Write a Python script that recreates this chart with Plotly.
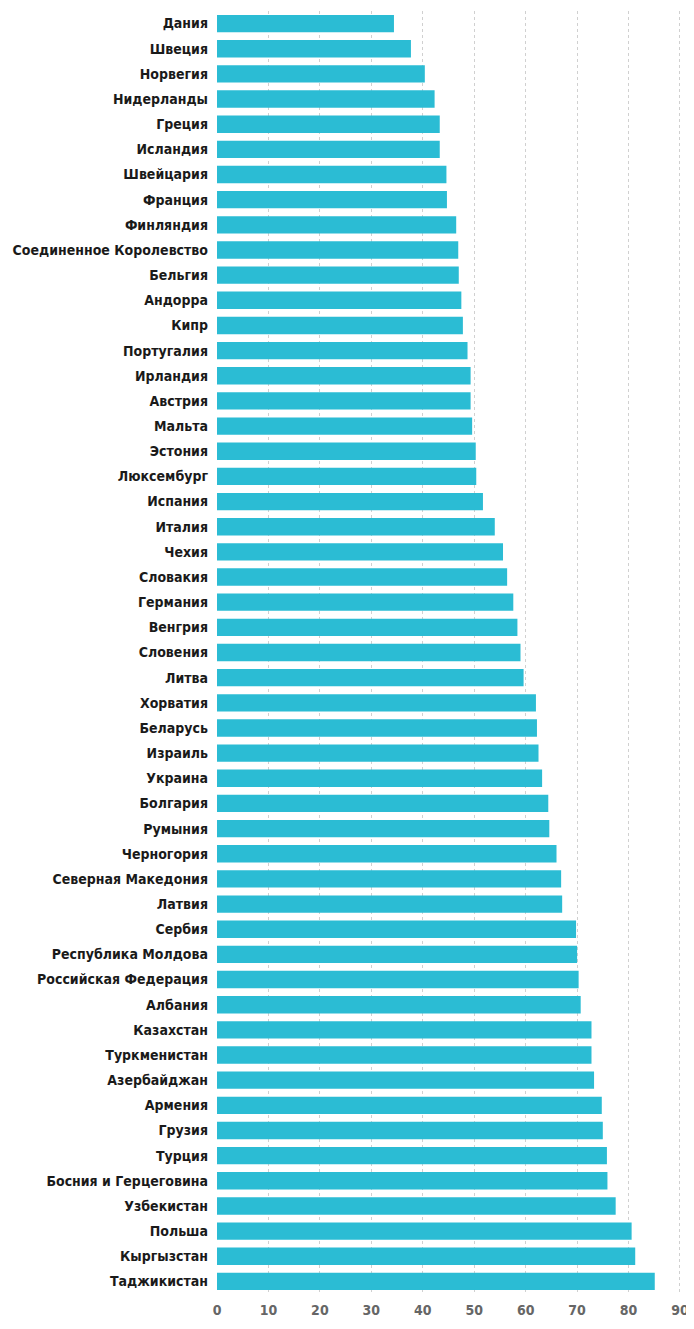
import plotly.graph_objects as go

countries = [
    "Дания", "Швеция", "Норвегия", "Нидерланды", "Греция", "Исландия",
    "Швейцария", "Франция", "Финляндия", "Соединенное Королевство",
    "Бельгия", "Андорра", "Кипр", "Португалия", "Ирландия", "Австрия",
    "Мальта", "Эстония", "Люксембург", "Испания", "Италия", "Чехия",
    "Словакия", "Германия", "Венгрия", "Словения", "Литва", "Хорватия",
    "Беларусь", "Израиль", "Украина", "Болгария", "Румыния", "Черногория",
    "Северная Македония", "Латвия", "Сербия", "Республика Молдова",
    "Российская Федерация", "Албания", "Казахстан", "Туркменистан",
    "Азербайджан", "Армения", "Грузия", "Турция", "Босния и Герцеговина",
    "Узбекистан", "Польша", "Кыргызстан", "Таджикистан",
]

values = [
    34.4, 37.7, 40.4, 42.3, 43.3, 43.3,
    44.6, 44.7, 46.5, 46.9,
    47.0, 47.5, 47.8, 48.7, 49.3, 49.3,
    49.6, 50.3, 50.4, 51.7, 54.0, 55.6,
    56.4, 57.6, 58.4, 59.0, 59.6, 62.0,
    62.2, 62.5, 63.2, 64.4, 64.6, 66.0,
    66.9, 67.1, 69.8, 70.0,
    70.3, 70.7, 72.8, 72.8,
    73.3, 74.8, 75.0, 75.8, 75.9,
    77.5, 80.6, 81.3, 85.1,
]

x_ticks = [0, 10, 20, 30, 40, 50, 60, 70, 80, 90]

FONT = "Liberation Sans Narrow, Arial Narrow, DejaVu Sans Condensed, sans-serif"

fig = go.Figure(
    go.Bar(
        x=values,
        y=countries,
        orientation="h",
        marker=dict(color="#2bbcd4", line=dict(width=0)),
        hoverinfo="x+y",
    )
)

# page body has an 8px default margin, so the figure is sized to fit the window
fig.update_layout(
    width=686,
    height=1321,
    margin=dict(l=209, r=13, t=3, b=35, autoexpand=False),
    paper_bgcolor="white",
    plot_bgcolor="white",
    bargap=0.31,
    showlegend=False,
    font=dict(family=FONT),
)

fig.update_xaxes(
    range=[0, 90.2],
    tickvals=x_ticks,
    ticktext=[str(t) for t in x_ticks],
    showgrid=True,
    gridcolor="#d0d0d0",
    griddash="dot",
    gridwidth=1,
    zeroline=False,
    showline=False,
    ticks="",
    automargin=False,
    ticklabelstandoff=6,
    tickfont=dict(size=14, color="#666666", family=FONT, weight="bold"),
    fixedrange=True,
)

fig.update_yaxes(
    autorange="reversed",
    showgrid=False,
    zeroline=False,
    showline=False,
    ticks="",
    automargin=False,
    ticklabelstandoff=8,
    tickfont=dict(size=14, color="#1a1a1a", family=FONT, weight="bold"),
    fixedrange=True,
)

fig.write_html("out.html")
